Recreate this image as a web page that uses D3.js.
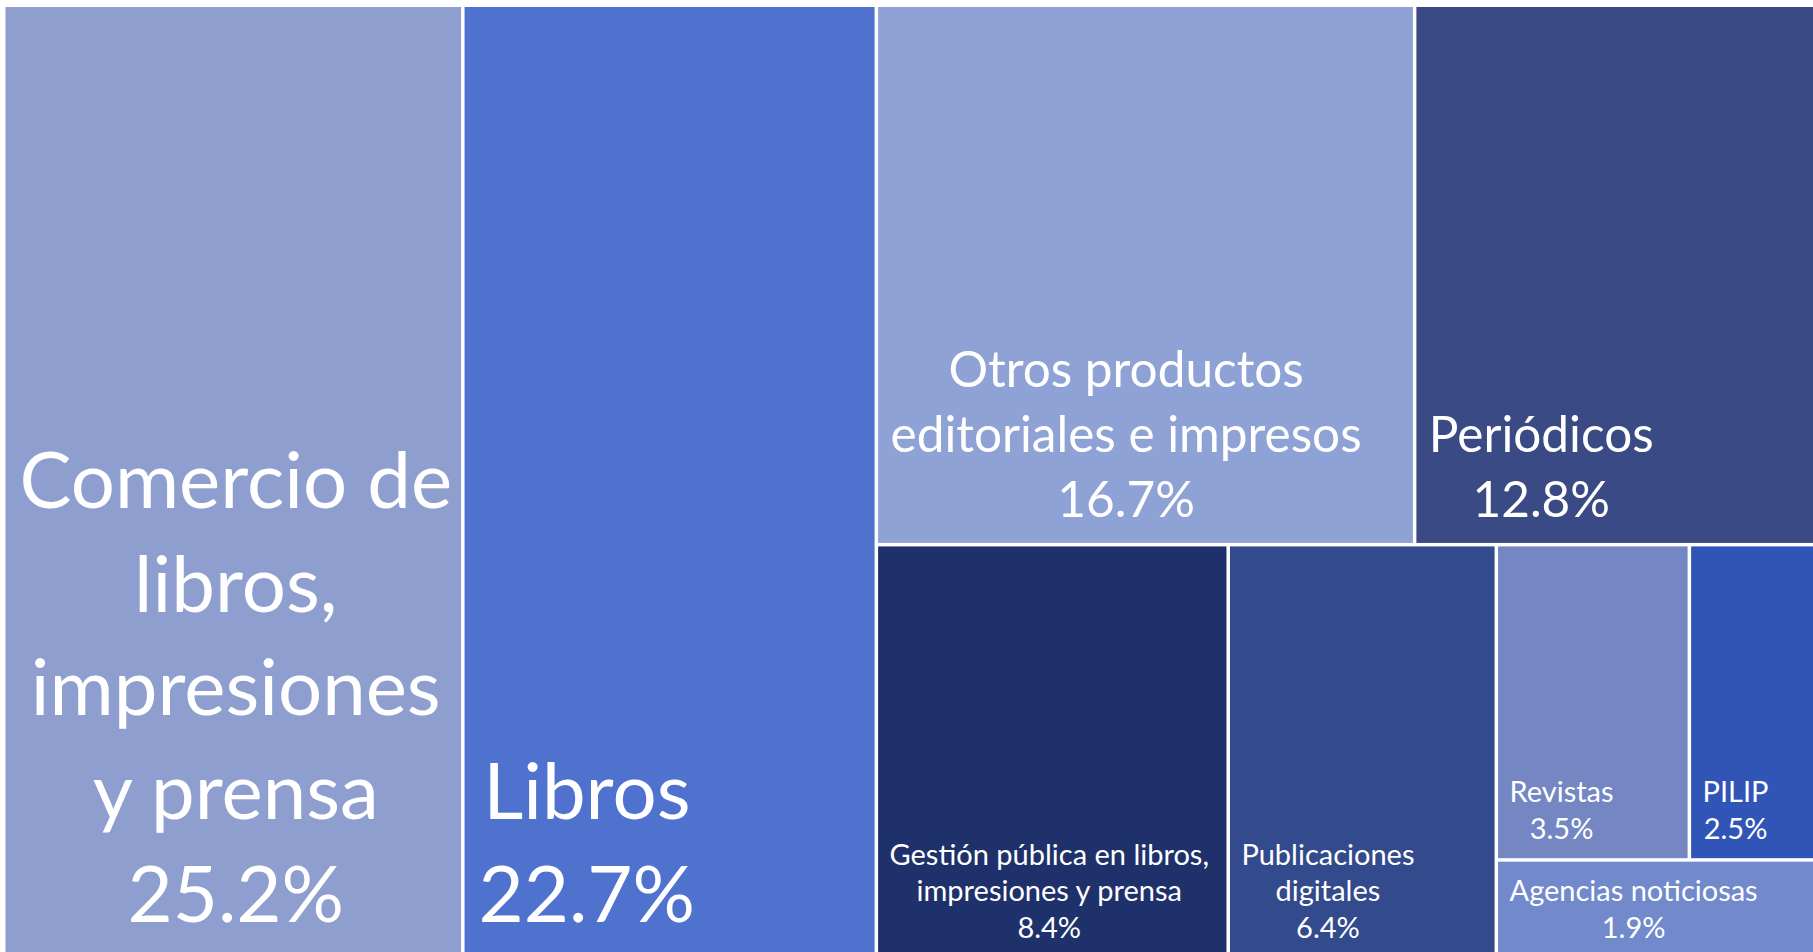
<!DOCTYPE html>
<html>
<head>
<meta charset="utf-8">
<script src="https://cdn.jsdelivr.net/npm/d3@7"></script>
<style>
  body { margin: 0; background: #fff; overflow: hidden; }
  svg { display: block; }
  .label { font-family: Lato, "Open Sans", sans-serif; fill: #fff; }
</style>
</head>
<body>
<div class="treemap"></div>
<script>
// categories, in the order Excel laid them out
var categories = [
  "Comercio de libros, impresiones y prensa",
  "Libros",
  "Otros productos editoriales e impresos",
  "Periódicos",
  "Gestión pública en libros, impresiones y prensa",
  "Publicaciones digitales",
  "Revistas",
  "PILIP",
  "Agencias noticiosas"
];

// how the names wrap inside the tiles
var labelLines = [
  ["Comercio de", "libros,", "impresiones", "y prensa"],
  ["Libros"],
  ["Otros productos", "editoriales e impresos"],
  ["Periódicos"],
  ["Gestión pública en libros,", "impresiones y prensa"],
  ["Publicaciones", "digitales"],
  ["Revistas"],
  ["PILIP"],
  ["Agencias noticiosas"]
];

// share of total (%)
var shares = [25.2, 22.7, 16.7, 12.8, 8.4, 6.4, 3.5, 2.5, 1.9];

var colors = ["#8E9ECE", "#4F72CF", "#8FA2D6", "#3A4A84", "#1F316B",
              "#334A8C", "#7487C3", "#3155B7", "#7289CC"];

var labelSizes = [78, 78, 49.5, 49.5, 29, 29, 29, 29, 29];

function init() {
  var w = 1813;
  var h = 952;
  var left = 5.5;
  var top = 7;

  function leaf(i) {
    return { name: categories[i], value: shares[i], i: i };
  }

  // nesting of the tiles as in the original chart
  var tree = { children: [
    leaf(0),
    leaf(1),
    { children: [
      { children: [leaf(2), leaf(3)] },
      { children: [leaf(4), leaf(5), { children: [
        { children: [leaf(6), leaf(7)] },
        leaf(8)
      ] }] }
    ] }
  ] };

  var root = d3.hierarchy(tree).sum(function(d) { return d.value || 0; });

  d3.treemap()
    .tile(d3.treemapSliceDice)
    .size([1820, 951])
    .paddingInner(3.5)(root);

  var svg = d3.select(".treemap")
    .append("svg")
    .attr("width", w)
    .attr("height", h);

  var plot = svg.append("g")
    .attr("transform", "translate(" + left + "," + top + ")");

  var cells = plot.selectAll(".cell")
    .data(root.leaves())
    .enter()
    .append("g")
    .attr("class", "cell");

  cells.append("rect")
    .attr("x", function(d) { return d.x0; })
    .attr("y", function(d) { return d.y0; })
    .attr("width", function(d) { return d.x1 - d.x0; })
    .attr("height", function(d) { return d.y1 - d.y0; })
    .style("fill", function(d) { return colors[d.data.i]; });

  var fmt = d3.format(".1f");

  // label block sits bottom-left, lines centred inside the block
  cells.each(function(d) {
    var g = d3.select(this);
    var fs = labelSizes[d.data.i];
    var lines = labelLines[d.data.i].concat([fmt(d.data.value) + "%"]);

    var texts = g.selectAll("text")
      .data(lines)
      .enter()
      .append("text")
      .attr("class", "label")
      .style("font-size", fs + "px")
      .text(function(t) { return t; });

    var blockW = d3.max(texts.nodes(), function(n) { return n.getComputedTextLength(); });
    var cx = d.x0 + 10 + 0.05 * fs + blockW / 2;
    var lh = 1.36 * fs - 2.5;
    var last = d.y1 - (0.33 * fs + 10);

    texts
      .attr("x", cx)
      .attr("y", function(t, k) { return last - (lines.length - 1 - k) * lh; })
      .attr("text-anchor", "middle");
  });
}

window.onload = init;
</script>
</body>
</html>
